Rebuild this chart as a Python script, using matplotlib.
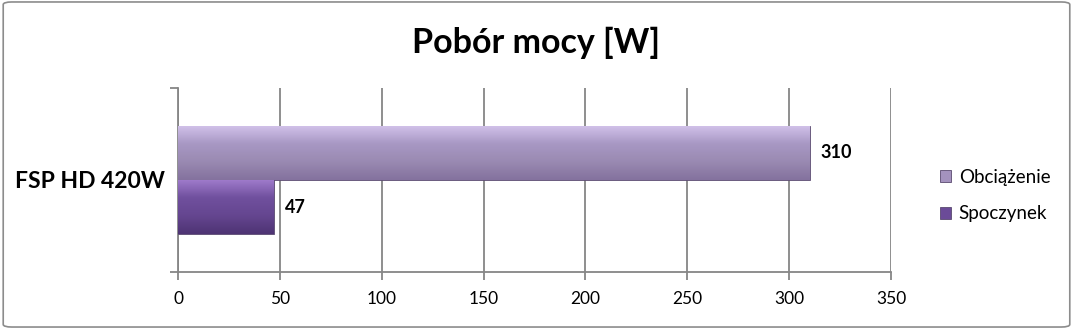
import numpy as np
import matplotlib.pyplot as plt
from matplotlib.patches import FancyBboxPatch
from matplotlib.colors import LinearSegmentedColormap

# data
categories = ['FSP HD 420W']
series_names = ['Obciążenie', 'Spoczynek']
series_values = [[310], [47]]
x_ticks = [0, 50, 100, 150, 200, 250, 300, 350]
title = 'Pobór mocy [W]'

colors = ['#a492be', '#6b4b98']
grad_colors = [('#d2c2ea', '#a898c4', '#9a8ab2', '#84729e'),
               ('#a07ccc', '#70509e', '#654690', '#4e3474')]

plt.rcParams['font.family'] = ['Lato', 'DejaVu Sans']

fig = plt.figure(figsize=(10.73, 3.29), dpi=100)
fig.patches.append(FancyBboxPatch((0.003, 0.006), 0.994, 0.988,
                                  boxstyle='round,pad=0,rounding_size=0.008',
                                  transform=fig.transFigure, fill=False,
                                  edgecolor='#8c8c8c', linewidth=1.2))
ax = fig.add_axes([0.1659, 0.1733, 0.6645, 0.5593])

h = 0.294
offsets = [h / 2, -h / 2]
y = np.arange(len(categories))
for i, name in enumerate(series_names):
    bars = ax.barh(y + offsets[i], series_values[i], height=h, color=colors[i],
                   edgecolor='#5a4a70', linewidth=0.6, label=name, zorder=3)
    cmap = LinearSegmentedColormap.from_list('g%d' % i, grad_colors[i])
    for b in bars:
        x0, y0 = b.get_x(), b.get_y()
        w, hh = b.get_width(), b.get_height()
        grad = np.linspace(0, 1, 64).reshape(-1, 1)
        im = ax.imshow(grad, cmap=cmap, aspect='auto', extent=[x0, x0 + w, y0, y0 + hh],
                       zorder=3.5, interpolation='bilinear')
        im.set_clip_path(b)
        ax.text(x0 + w + 5.5, y0 + hh / 2, str(series_values[i][0]), va='center', ha='left',
                fontsize=13, fontweight='bold', color='black', zorder=5)

ax.set_xlim(0, 350)
ax.set_ylim(-0.5, 0.5)
ax.set_xticks(x_ticks)
ax.set_xticklabels([str(t) for t in x_ticks], fontsize=12.5)
ax.set_yticks([-0.5, 0.5])
ax.set_yticklabels([])
ax.text(-0.018, 0.49, categories[0], transform=ax.transAxes, ha='right', va='center',
        fontsize=16.5, fontweight='bold')
ax.grid(axis='x', color='#868686', linewidth=1.3, zorder=0)
ax.set_axisbelow(True)
for s in ['top', 'right']:
    ax.spines[s].set_visible(False)
for s in ['left', 'bottom']:
    ax.spines[s].set_color('#868686')
    ax.spines[s].set_linewidth(1.3)
ax.tick_params(axis='x', length=6, width=1.3, color='#868686', pad=8)
ax.tick_params(axis='y', length=6, width=1.3, color='#868686')

fig.text(0.5, 0.87, title, ha='center', va='center', fontsize=24.5, fontweight='bold')

leg = ax.legend(loc='center left', bbox_to_anchor=(1.045, 0.415), frameon=False,
                fontsize=13.5, handlelength=0.6, handleheight=0.6, handletextpad=0.4,
                labelspacing=1.05)

fig.savefig('out.png', dpi=100)
